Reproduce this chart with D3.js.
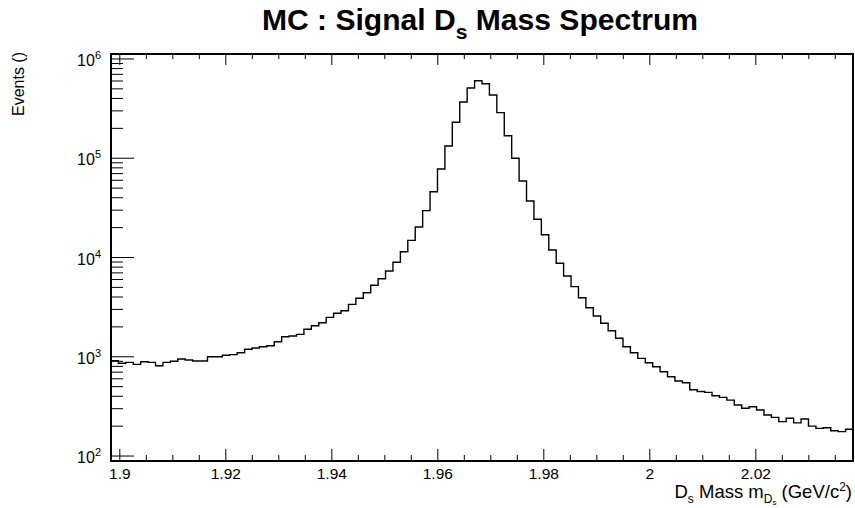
<!DOCTYPE html>
<html>
<head>
<meta charset="utf-8">
<script src="https://d3js.org/d3.v7.min.js"></script>
<style>
  body { margin: 0; background: #fff; }
  svg { display: block; font-family: "Liberation Sans", Arial, sans-serif; }
</style>
</head>
<body>
<svg id="chart" width="855" height="508"></svg>
<script>
// histogram: 100 bins over the Ds mass window
const xMin = 1.89834, xMax = 2.03834, nBins = 100;
const binValues = [
  912, 859, 879, 839, 891, 879, 813, 879, 900, 949,
  927, 906, 906, 1000, 1000, 1035, 1050, 1099, 1189, 1225,
  1262, 1292, 1418, 1592, 1618, 1683, 1891, 2056, 2203, 2496,
  2741, 2911, 3373, 3881, 4416, 5248, 6109, 7311, 8954, 11430,
  14890, 20280, 29650, 46030, 78000, 132800, 230200, 368700, 510500, 604000,
  563600, 433600, 287700, 168700, 99900, 59020, 37070, 24320, 16940, 11910,
  8750, 6513, 5083, 3936, 3119, 2576, 2173, 1829, 1535, 1262,
  1099, 964, 871, 794, 707, 630, 570, 547, 466, 447,
  438, 405, 390, 366, 327, 303, 314, 291, 259, 245,
  222, 240, 216, 236, 200, 190, 193, 180, 176, 186
];
const xTicks = [1.9, 1.92, 1.94, 1.96, 1.98, 2.0, 2.02];
const xTickLabels = ["1.9", "1.92", "1.94", "1.96", "1.98", "2", "2.02"];
const yDecades = [2, 3, 4, 5, 6];
const yDomain = [Math.pow(10, 1.95), Math.pow(10, 6.05)];

const margin = {top: 54, right: 2, bottom: 47, left: 111};
const W = 855, H = 508;
const svg = d3.select("#chart");

const x = d3.scaleLinear().domain([xMin, xMax]).range([margin.left, W - margin.right]);
const y = d3.scaleLog().domain(yDomain).range([H - margin.bottom, margin.top]);

// title
const title = svg.append("text")
    .attr("x", 480).attr("y", 30)
    .attr("text-anchor", "middle")
    .attr("font-weight", "bold")
    .attr("font-size", 30)
    .attr("textLength", 436)
    .attr("lengthAdjust", "spacingAndGlyphs");
title.append("tspan").text("MC : Signal D");
title.append("tspan").attr("font-size", 21).attr("dy", 9).text("s");
title.append("tspan").attr("dy", -9).text(" Mass Spectrum");

// histogram outline
const edges = d3.range(nBins + 1).map(i => xMin + (xMax - xMin) * i / nBins);
let d = "";
binValues.forEach((v, i) => {
  const yy = y(v);
  d += (i === 0 ? "M" : "L") + x(edges[i]) + "," + yy + "L" + x(edges[i + 1]) + "," + yy;
});
svg.append("path")
    .attr("d", d)
    .attr("fill", "none")
    .attr("stroke", "#000")
    .attr("stroke-width", 1.4);

// x ticks (bottom and top)
const bottomY = H - margin.bottom, topY = margin.top;
const minorX = d3.range(1.9, xMax + 1e-9, 0.005).filter(v => v >= xMin);
const tickG = svg.append("g").attr("stroke", "#000").attr("stroke-width", 1);
minorX.forEach(v => {
  const major = xTicks.some(t => Math.abs(t - v) < 1e-6);
  const len = major ? 12 : 6;
  tickG.append("line").attr("x1", x(v)).attr("x2", x(v)).attr("y1", bottomY).attr("y2", bottomY - len);
  tickG.append("line").attr("x1", x(v)).attr("x2", x(v)).attr("y1", topY).attr("y2", topY + (major ? 11 : 5));
});
xTicks.forEach((t, i) => {
  svg.append("text")
      .attr("x", x(t)).attr("y", 479)
      .attr("text-anchor", "middle")
      .attr("font-size", 15.5)
      .text(xTickLabels[i]);
});

// y ticks (log)
for (let k = 1; k <= 6; k++) {
  for (let m = 1; m <= 9; m++) {
    const v = m * Math.pow(10, k);
    if (v < yDomain[0] || v > yDomain[1]) continue;
    const len = m === 1 ? 23 : 12;
    tickG.append("line").attr("x1", margin.left).attr("x2", margin.left + len)
        .attr("y1", y(v)).attr("y2", y(v));
  }
}
yDecades.forEach(e => {
  const t = svg.append("text")
      .attr("x", 101).attr("y", y(Math.pow(10, e)) + 7)
      .attr("text-anchor", "end")
      .attr("font-size", 16);
  t.append("tspan").text("10");
  t.append("tspan").attr("font-size", 11).attr("dy", -7).text(e);
});

// frame
svg.append("rect")
    .attr("x", margin.left).attr("y", margin.top)
    .attr("width", W - margin.left - margin.right)
    .attr("height", H - margin.top - margin.bottom)
    .attr("fill", "none").attr("stroke", "#000").attr("stroke-width", 2);

// axis titles
const xt = svg.append("text")
    .attr("x", 852).attr("y", 498)
    .attr("text-anchor", "end")
    .attr("font-size", 18.5);
xt.append("tspan").text("D");
xt.append("tspan").attr("font-size", 12).attr("dy", 5).text("s");
xt.append("tspan").attr("dy", -5).text(" Mass m");
xt.append("tspan").attr("font-size", 12).attr("dy", 5).text("D");
xt.append("tspan").attr("font-size", 8).attr("dy", 2).text("s");
xt.append("tspan").attr("dy", -7).text(" (GeV/c");
xt.append("tspan").attr("font-size", 12).attr("dy", -7).text("2");
xt.append("tspan").attr("dy", 7).text(")");

svg.append("text")
    .attr("transform", "translate(24,52) rotate(-90)")
    .attr("text-anchor", "end")
    .attr("font-size", 16)
    .text("Events ()");
</script>
</body>
</html>
